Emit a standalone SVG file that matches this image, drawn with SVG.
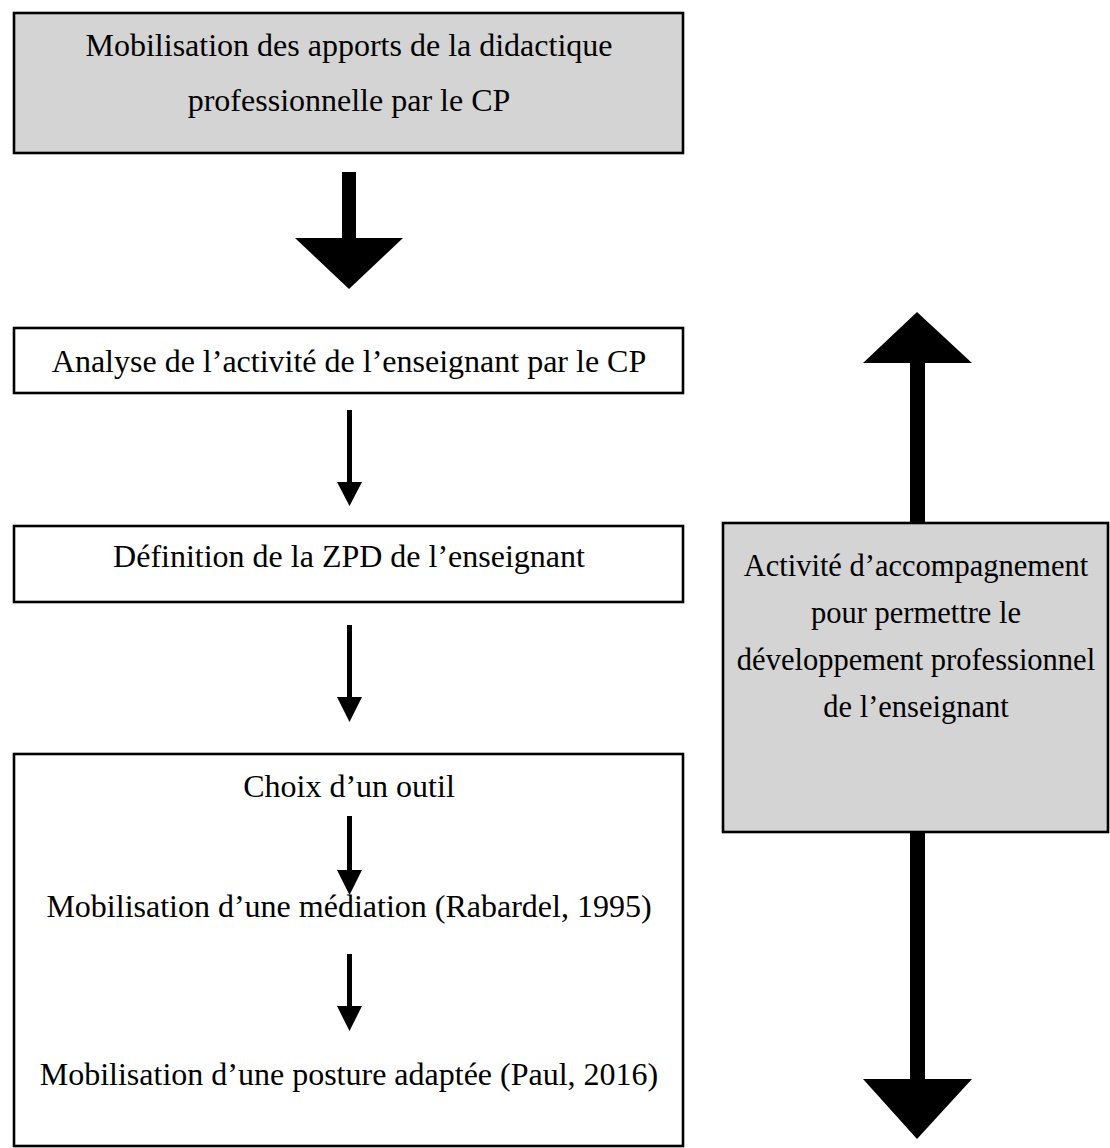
<svg xmlns="http://www.w3.org/2000/svg" width="1110" height="1148" viewBox="0 0 1110 1148">
<style>
.box{stroke:#000;stroke-width:2.6}
.grey{fill:#d4d4d4}
.white{fill:#fff}
.t{font-family:"Liberation Serif","Times New Roman",serif;font-size:32px;fill:#000;text-anchor:middle}
.tr{font-family:"Liberation Serif","Times New Roman",serif;font-size:30.5px;fill:#000;text-anchor:middle}
.arr{fill:#000}
</style>
<rect width="1110" height="1148" fill="#fff"/>
<g id="node-mobilisation-apports">
<rect class="box grey" x="14" y="13" width="669" height="140"/>
<text class="t" x="349" y="56">Mobilisation des apports de la didactique</text>
<text class="t" x="349" y="111">professionnelle par le CP</text>
</g>
<g id="node-analyse">
<rect class="box white" x="14" y="328" width="669" height="65"/>
<text class="t" x="349" y="372">Analyse de l’activité de l’enseignant par le CP</text>
</g>
<g id="node-definition">
<rect class="box white" x="14" y="526" width="669" height="76"/>
<text class="t" x="349" y="567">Définition de la ZPD de l’enseignant</text>
</g>
<g id="node-outil">
<rect class="box white" x="14" y="754" width="669" height="392"/>
<text class="t" x="349" y="797">Choix d’un outil</text>
<text class="t" x="349" y="917">Mobilisation d’une médiation (Rabardel, 1995)</text>
<text class="t" x="349" y="1085">Mobilisation d’une posture adaptée (Paul, 2016)</text>
</g>
<g id="node-accompagnement">
<rect class="box grey" x="723" y="523" width="385" height="309"/>
<text class="tr" x="916" y="576">Activité d’accompagnement</text>
<text class="tr" x="916" y="623">pour permettre le</text>
<text class="tr" x="916" y="670">développement professionnel</text>
<text class="tr" x="916" y="717">de l’enseignant</text>
</g>
<g id="connectors">
<path class="arr" d="M342,172 H356 V238 H403 L349,289 L295,238 H342 Z"/>
<path class="arr" d="M347,410 H352 V482 H362 L349.5,506 L337,482 H347 Z"/>
<path class="arr" d="M347,625 H352 V697 H362 L349.5,722 L337,697 H347 Z"/>
<path class="arr" d="M347,816 H352 V870 H362 L349.5,895 L337,870 H347 Z"/>
<path class="arr" d="M347,954 H352 V1006 H362 L349.5,1031 L337,1006 H347 Z"/>
<path class="arr" d="M910,523 V363 H863 L917,312 L972,363 H925 V523 Z"/>
<path class="arr" d="M910,832 V1079 H863 L917,1139 L972,1079 H925 V832 Z"/>
</g>
</svg>
